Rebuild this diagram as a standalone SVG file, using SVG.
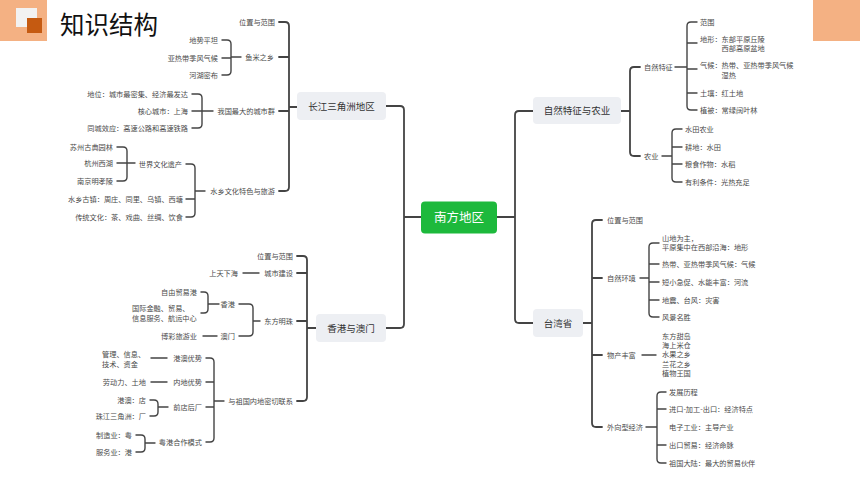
<svg xmlns="http://www.w3.org/2000/svg" width="860" height="484" viewBox="0 0 860 484">
<style>
text{font-family:"Noto Sans CJK SC","Noto Sans",sans-serif}
.t{font-size:7.2px;fill:#4a4a4a}
.e{text-anchor:end}
.m{text-anchor:middle}
.n{font-size:9.5px;fill:#333}
.c{font-size:12.5px;fill:#fff}
.box{fill:#EDEFF3}
.l{fill:none;stroke:#444;stroke-width:1.4;stroke-linecap:round;stroke-linejoin:round}
.L{fill:none;stroke:#444;stroke-width:1.8;stroke-linecap:round;stroke-linejoin:round}
</style>
<rect width="860" height="484" fill="#fff"/>
<g id="header">
<rect x="0" y="0" width="47" height="41" fill="#F4B183"/>
<rect x="16" y="8" width="21" height="19" fill="#F2F2F2"/>
<rect x="27" y="18" width="15" height="15" fill="#C55A11"/>
<rect x="813" y="0" width="47" height="41" fill="#F4B183"/>
<text x="60" y="33.5" style="font-size:24.5px;fill:#111">知识结构</text>
</g>
<g id="connectors">
<path class="L" d="M404,217 H421 M386,106 H400 Q404,106 404,110 V324 Q404,328 400,328 H386"/>
<path class="L" d="M497,217 H515 M533,111 H519 Q515,111 515,115 V319 Q515,323 519,323 H533"/>
<path class="L" d="M279,22 H285 Q289,22 289,26 V187 Q289,191 285,191 H279 M279,57 H289 M279,111 H289 M289,107 H297"/>
<path class="l" d="M222,40 H227 Q231,40 231,44 V71 Q231,75 227,75 H222 M222,58 H231 M231,57 H241"/>
<path class="l" d="M192,94 H198 Q202,94 202,98 V124 Q202,128 198,128 H192 M192,111 H213"/>
<path class="l" d="M117,147 H123 Q127,147 127,151 V177 Q127,181 123,181 H117 M117,163 H135"/>
<path class="l" d="M186,164 H191 Q195,164 195,168 V213 Q195,217 191,217 H186 M186,199 H195 M195,191 H205"/>
<path class="L" d="M297,256 H303 Q307,256 307,260 V397 Q307,401 303,401 H297 M297,273 H307 M297,321 H307 M307,328 H316"/>
<path class="l" d="M243,273 H259"/>
<path class="l" d="M239,304 H249 Q253,304 253,308 V332 Q253,336 249,336 H239 M253,321 H260"/>
<path class="l" d="M201,292 H204 Q208,292 208,296 V309 Q208,313 204,313 H201 M208,304 H219"/>
<path class="l" d="M203,336 H217"/>
<path class="l" d="M206,358 H210 Q214,358 214,362 V438 Q214,442 210,442 H206 M206,382 H214 M206,407 H214 M214,401 H224"/>
<path class="l" d="M151,358 H167 M151,382 H167"/>
<path class="l" d="M150,400 H154 Q158,400 158,404 V412 Q158,416 154,416 H150 M158,407 H168"/>
<path class="l" d="M136,435 H141 Q145,435 145,439 V448 Q145,452 141,452 H136 M145,443 H155"/>
<path class="L" d="M621,111 H630 M640,67 H634 Q630,67 630,71 V152 Q630,156 634,156 H640"/>
<path class="l" d="M675,67 H687 M697,22 H691 Q687,22 687,26 V106 Q687,110 691,110 H697 M687,43 H697 M687,69 H697 M687,93 H697"/>
<path class="l" d="M662,156 H672 M682,129 H676 Q672,129 672,133 V178 Q672,182 676,182 H682 M672,147 H682 M672,164 H682"/>
<path class="L" d="M583,323 H592 M602,220 H596 Q592,220 592,224 V423 Q592,427 596,427 H602 M592,278 H602 M592,355 H602"/>
<path class="l" d="M640,278 H649 M659,243 H653 Q649,243 649,247 V313 Q649,317 653,317 H659 M649,264 H659 M649,282 H659 M649,300 H659"/>
<path class="l" d="M642,355 H656"/>
<path class="l" d="M646,427 H657 M666,392 H661 Q657,392 657,396 V459 Q657,463 661,463 H666 M657,409 H666 M657,445 H666"/>
</g>
<g id="root"><rect x="421" y="201.5" width="76" height="32" rx="4" fill="#1DB93C"/><text class="c m" x="459" y="222">南方地区</text></g>
<g id="n-changjiang"><rect class="box" x="297" y="92" width="89" height="28" rx="4"/><text class="n m" x="341.5" y="109.5">长江三角洲地区</text></g>
<g id="n-hkmacau"><rect class="box" x="316" y="314" width="70" height="28" rx="4"/><text class="n m" x="351" y="331.5">香港与澳门</text></g>
<g id="n-nature"><rect class="box" x="533" y="97" width="88" height="27" rx="4"/><text class="n m" x="577" y="114">自然特征与农业</text></g>
<g id="n-taiwan"><rect class="box" x="533" y="309" width="50" height="28" rx="4"/><text class="n m" x="558" y="326.5">台湾省</text></g>
<g id="cj-items">
<text class="t e" x="275" y="24.7">位置与范围</text>
<text class="t e" x="274" y="59.7">鱼米之乡</text>
<text class="t e" x="218" y="42.7">地势平坦</text>
<text class="t e" x="218" y="60.7">亚热带季风气候</text>
<text class="t e" x="218" y="77.7">河湖密布</text>
<text class="t e" x="275" y="113.7">我国最大的城市群</text>
<text class="t e" x="188" y="96.7">地位：城市最密集、经济最发达</text>
<text class="t e" x="188" y="113.7">核心城市：上海</text>
<text class="t e" x="188" y="130.7">同城效应：高速公路和高速铁路</text>
<text class="t e" x="275" y="193.7">水乡文化特色与旅游</text>
<text class="t e" x="182" y="166.7">世界文化遗产</text>
<text class="t e" x="113" y="149.7">苏州古典园林</text>
<text class="t e" x="113" y="165.7">杭州西湖</text>
<text class="t e" x="113" y="183.7">南京明孝陵</text>
<text class="t e" x="183" y="201.7">水乡古镇：周庄、同里、乌镇、西塘</text>
<text class="t e" x="183" y="219.7">传统文化：茶、戏曲、丝绸、饮食</text>
</g>
<g id="hk-items">
<text class="t e" x="293" y="258.7">位置与范围</text>
<text class="t e" x="293" y="275.7">城市建设</text>
<text class="t e" x="238" y="275.7">上天下海</text>
<text class="t e" x="293" y="323.7">东方明珠</text>
<text class="t e" x="235" y="306.7">香港</text>
<text class="t e" x="235" y="338.7">澳门</text>
<text class="t e" x="197" y="294.7">自由贸易港</text>
<text class="t" x="132" y="310.7">国际金融、贸易、</text>
<text class="t" x="132" y="320.7">信息服务、航运中心</text>
<text class="t e" x="197" y="338.7">博彩旅游业</text>
<text class="t e" x="293" y="403.7">与祖国内地密切联系</text>
<text class="t e" x="202" y="360.7">港澳优势</text>
<text class="t e" x="202" y="384.7">内地优势</text>
<text class="t e" x="202" y="409.7">前店后厂</text>
<text class="t e" x="202" y="444.7">粤港合作模式</text>
<text class="t" x="102" y="356.7">管理、信息、</text>
<text class="t" x="102" y="366.7">技术、资金</text>
<text class="t e" x="146" y="384.7">劳动力、土地</text>
<text class="t e" x="146" y="402.7">港澳：店</text>
<text class="t e" x="146" y="418.7">珠江三角洲：厂</text>
<text class="t e" x="132" y="437.7">制造业：粤</text>
<text class="t e" x="132" y="454.7">服务业：港</text>
</g>
<g id="nat-items">
<text class="t" x="644" y="69.7">自然特征</text>
<text class="t" x="644" y="158.7">农业</text>
<text class="t" x="700" y="24.7">范围</text>
<text class="t" x="700" y="41.7">地形：东部平原丘陵</text>
<text class="t" x="721.6" y="50.7">西部高原盆地</text>
<text class="t" x="700" y="67.7">气候：热带、亚热带季风气候</text>
<text class="t" x="721.6" y="77.7">湿热</text>
<text class="t" x="700" y="95.7">土壤：红土地</text>
<text class="t" x="700" y="112.7">植被：常绿阔叶林</text>
<text class="t" x="685" y="131.7">水田农业</text>
<text class="t" x="685" y="149.7">耕地：水田</text>
<text class="t" x="685" y="166.7">粮食作物：水稻</text>
<text class="t" x="685" y="184.7">有利条件：光热充足</text>
</g>
<g id="tw-items">
<text class="t" x="607" y="222.7">位置与范围</text>
<text class="t" x="607" y="280.7">自然环境</text>
<text class="t" x="607" y="357.7">物产丰富</text>
<text class="t" x="607" y="429.7">外向型经济</text>
<text class="t" x="662" y="240.7">山地为主，</text>
<text class="t" x="662" y="249.7">平原集中在西部沿海：地形</text>
<text class="t" x="662" y="266.7">热带、亚热带季风气候：气候</text>
<text class="t" x="662" y="284.7">短小急促、水能丰富：河流</text>
<text class="t" x="662" y="302.7">地震、台风：灾害</text>
<text class="t" x="662" y="319.7">风景名胜</text>
<text class="t" x="662" y="338.7">东方甜岛</text>
<text class="t" x="662" y="348">海上米仓</text>
<text class="t" x="662" y="357.2">水果之乡</text>
<text class="t" x="662" y="366.5">兰花之乡</text>
<text class="t" x="662" y="375.7">植物王国</text>
<text class="t" x="669" y="394.7">发展历程</text>
<text class="t" x="669" y="411.7">进口-加工-出口：经济特点</text>
<text class="t" x="669" y="429.7">电子工业：主导产业</text>
<text class="t" x="669" y="447.7">出口贸易：经济命脉</text>
<text class="t" x="669" y="465.7">祖国大陆：最大的贸易伙伴</text>
</g>
</svg>
